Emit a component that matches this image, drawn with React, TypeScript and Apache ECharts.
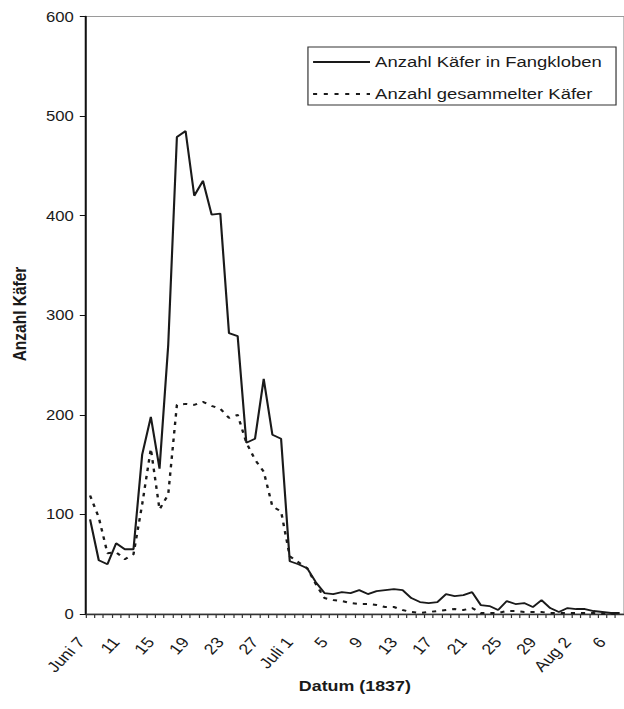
import React, { useEffect, useRef } from "react";
import * as echarts from "echarts";

// Day categories, 7 June 1837 to 7 August 1837
const days: string[] = [
  "Juni 7", "8", "9", "10", "11", "12", "13", "14", "15", "16", "17", "18", "19", "20",
  "21", "22", "23", "24", "25", "26", "27", "28", "29", "30",
  "Juli 1", "2", "3", "4", "5", "6", "7", "8", "9", "10", "11", "12", "13", "14", "15",
  "16", "17", "18", "19", "20", "21", "22", "23", "24", "25", "26", "27", "28", "29",
  "30", "31",
  "Aug 1", "Aug 2", "3", "4", "5", "6", "7",
];

// Anzahl Käfer in Fangkloben (solid line)
const fangkloben: number[] = [
  95, 54, 50, 71, 65, 65, 160, 198, 146, 270,
  479, 485, 420, 435, 401, 402, 282, 279, 172, 176,
  236, 180, 176, 53, 50, 46, 32, 21, 20, 22,
  21, 24, 20, 23, 24, 25, 24, 16, 12, 11,
  12, 20, 18, 19, 22, 9, 8, 4, 13, 10,
  11, 7, 14, 6, 2, 6, 5, 5, 3, 2,
  1, 1,
];

// Anzahl gesammelter Käfer (dashed line)
const gesammelt: number[] = [
  119, 97, 61, 62, 55, 60, 110, 166, 105, 120,
  210, 211, 210, 213, 209, 206, 197, 200, 172, 155,
  143, 108, 103, 58, 52, 46, 30, 16, 14, 13,
  11, 10, 10, 9, 7, 7, 4, 2, 1, 2,
  3, 4, 5, 4, 6, 1, 1, 1, 3, 3,
  2, 2, 2, 1, 1, 1, 1, 1, 1, 0,
  0, 0,
];

const seriesNames = ["Anzahl Käfer in Fangkloben", "Anzahl gesammelter Käfer"];
const yTitle = "Anzahl Käfer";
const xTitle = "Datum (1837)";

const FONT = "'Liberation Sans', Arial, Helvetica, sans-serif";
const W_FULL = 624;
const H_FULL = 709;
const W0 = 524; // drawn width, stretched horizontally to the full width
const SX = W_FULL / W0;

const INK = "#1a1a1a";
const SOLID_STYLE = { stroke: INK, lineWidth: 1.8 };
const DASH_STYLE = { stroke: INK, lineWidth: 2, lineDash: [3.4, 5.6] };

export default function App() {
  const ref = useRef<HTMLDivElement>(null);

  useEffect(() => {
    if (!ref.current) return;
    const chart = echarts.init(ref.current, undefined, { renderer: "svg" });

    const legendLeft = 258.6;
    const legendTop = 47;
    const legendW = 258.7;
    const legendH = 58;
    const sampleX0 = 262.9;
    const sampleX1 = 310.7;
    const textX = 315;
    const rowY = [62, 94];
    const styles = [SOLID_STYLE, DASH_STYLE];

    const legendGraphics: any[] = [
      {
        type: "rect",
        shape: { x: legendLeft, y: legendTop, width: legendW, height: legendH },
        style: { fill: "#fff", stroke: "#333", lineWidth: 1 },
        z: 10,
      },
    ];
    seriesNames.forEach((name, k) => {
      legendGraphics.push({
        type: "line",
        shape: { x1: sampleX0, y1: rowY[k], x2: sampleX1, y2: rowY[k] },
        style: styles[k],
        z: 11,
      });
      legendGraphics.push({
        type: "text",
        x: textX,
        y: rowY[k],
        style: {
          text: name,
          font: `15.5px ${FONT}`,
          fill: INK,
          textAlign: "left",
          textVerticalAlign: "middle",
        },
        z: 11,
      });
    });

    chart.setOption({
      animation: false,
      backgroundColor: "#ffffff",
      grid: {
        left: 72,
        top: 16.5,
        width: 454,
        height: 597.5,
        show: true,
        borderColor: "#9a9a9a",
        borderWidth: 1,
        backgroundColor: "transparent",
      },
      xAxis: {
        type: "category",
        data: days,
        boundaryGap: true,
        axisLine: { show: true, lineStyle: { color: "#333", width: 1.4 } },
        axisTick: { show: true, interval: 0, length: 4, lineStyle: { color: "#333", width: 1 } },
        axisLabel: {
          interval: 3,
          rotate: 50,
          margin: 16,
          padding: [0, 12, 0, 0],
          fontSize: 15,
          color: INK,
          fontFamily: FONT,
        },
        splitLine: { show: false },
      },
      yAxis: {
        type: "value",
        min: 0,
        max: 600,
        interval: 100,
        axisLine: { show: true, lineStyle: { color: "#111", width: 1.7 } },
        axisTick: { show: true, length: 5, lineStyle: { color: "#111", width: 1 } },
        axisLabel: { margin: 10, fontSize: 14, color: INK, fontFamily: FONT },
        splitLine: { show: false },
      },
      series: [
        {
          name: seriesNames[0],
          type: "line",
          data: fangkloben,
          symbol: "none",
          lineStyle: { color: INK, width: 1.8 },
          itemStyle: { color: INK },
          z: 3,
        },
        {
          name: seriesNames[1],
          type: "line",
          data: gesammelt,
          symbol: "none",
          lineStyle: { color: INK, width: 2, type: [3.5, 5] },
          itemStyle: { color: INK },
          z: 2,
        },
      ],
      graphic: [
        ...legendGraphics,
        {
          type: "text",
          x: 16.8,
          y: 314,
          rotation: Math.PI / 2,
          style: {
            text: yTitle,
            font: `bold 15.5px ${FONT}`,
            fill: INK,
            textAlign: "center",
            textVerticalAlign: "middle",
          },
        },
        {
          type: "text",
          x: 298,
          y: 686,
          style: {
            text: xTitle,
            font: `bold 15px ${FONT}`,
            fill: INK,
            textAlign: "center",
            textVerticalAlign: "middle",
          },
        },
      ],
    });
    return () => chart.dispose();
  }, []);

  return (
    <div
      style={{
        position: "absolute",
        left: 0,
        top: 0,
        width: W_FULL,
        height: H_FULL,
        overflow: "hidden",
        background: "#fff",
      }}
    >
      <div
        ref={ref}
        style={{
          width: W0,
          height: H_FULL,
          transform: `scaleX(${SX})`,
          transformOrigin: "0 0",
        }}
      />
    </div>
  );
}
